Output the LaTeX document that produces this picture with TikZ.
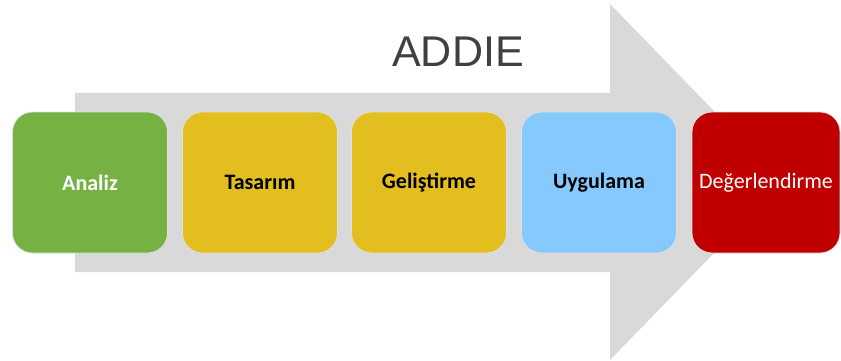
\documentclass[tikz,border=0pt]{standalone}
\usepackage{fontspec}
\setmainfont{Carlito}
\newfontfamily\titlefont{Liberation Sans}
\definecolor{arrowgray}{HTML}{D9D9D9}
\definecolor{stepgreen}{HTML}{76B243}
\definecolor{stepyellow}{HTML}{E2BE1F}
\definecolor{stepblue}{HTML}{86C9FE}
\definecolor{stepred}{HTML}{C00000}
\definecolor{titlegray}{HTML}{404040}
\begin{document}
\begin{tikzpicture}[x=1pt,y=-1pt,
  phase/.style={rounded corners=20pt, draw=white!88!black, line width=0.8pt,
    minimum width=155pt, minimum height=141pt, inner sep=0pt,
    font=\fontsize{22}{26}\selectfont},
  strong/.style={font=\fontsize{22}{26}\selectfont\bfseries}]
  \useasboundingbox (0,0) rectangle (841,361);
  % big block arrow behind the phases
  \fill[arrowgray] (75,93) -- (610,93) -- (610,4) -- (783,182)
    -- (610,360) -- (610,272) -- (75,272) -- cycle;
  % title
  \node[font=\titlefont\fontsize{43}{48}\selectfont, text=titlegray]
    (title) at (458,52) {ADDIE};
  % phases
  \node[phase, fill=stepgreen, text=white] (analiz) at (90,182.5)
    {\bfseries Analiz};
  \node[phase, fill=stepyellow, text=black] (tasarim) at (260,182.5)
    {\bfseries Tasarım};
  \node[phase, fill=stepyellow, text=black] (gelistirme) at (429,182.5)
    {\bfseries Geliştirme};
  \node[phase, fill=stepblue, text=black] (uygulama) at (599,182.5)
    {\bfseries Uygulama};
  \node[phase, fill=stepred, text=white, minimum width=148pt] (degerlendirme) at (766,182.5)
    {Değerlendirme};
\end{tikzpicture}
\end{document}
